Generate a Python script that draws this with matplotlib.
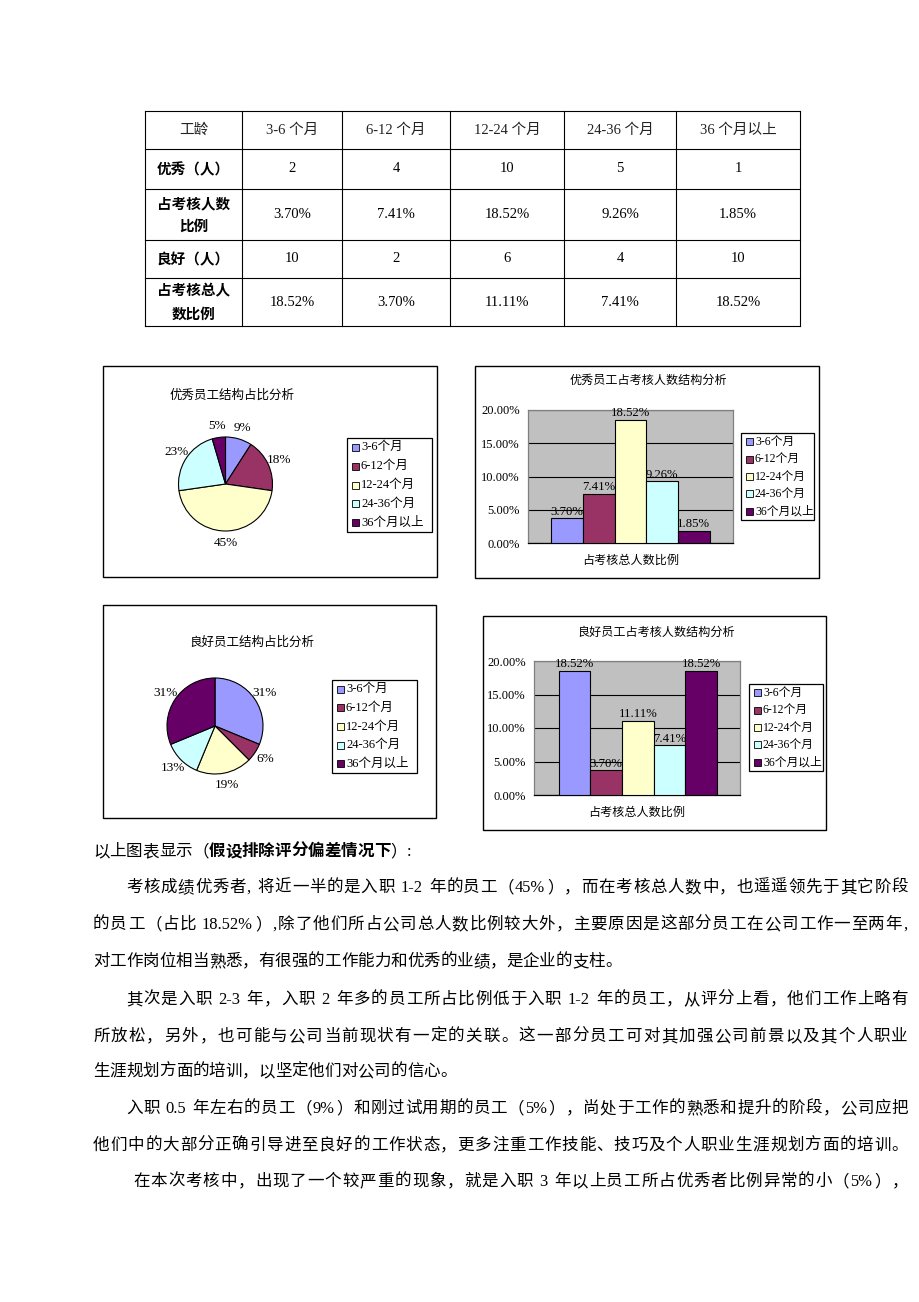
import matplotlib
matplotlib.use('Agg')
import matplotlib.pyplot as plt
from matplotlib.patches import Rectangle

W, H = 920, 1302
CJK = 'Noto Sans CJK SC'
MIX = ['Liberation Serif', 'Noto Sans CJK SC']

# ---------------- data ----------------
categories = ['3-6个月', '6-12个月', '12-24个月', '24-36个月', '36个月以上']
table_header = ['工龄', '3-6 个月', '6-12 个月', '12-24 个月', '24-36 个月', '36 个月以上']
row_labels = ['优秀（人）', '占考核人数\n比例', '良好（人）', '占考核总人\n数比例']
excellent_count = [2, 4, 10, 5, 1]
excellent_pct = [3.70, 7.41, 18.52, 9.26, 1.85]
good_count = [10, 2, 6, 4, 10]
good_pct = [18.52, 3.70, 11.11, 7.41, 18.52]
colors = ['#9999FF', '#993366', '#FFFFCC', '#CCFFFF', '#660066']

pie1_title = '优秀员工结构占比分析'
pie2_title = '良好员工结构占比分析'
bar1_title = '优秀员工占考核人数结构分析'
bar2_title = '良好员工占考核人数结构分析'
bar_xlabel = '占考核总人数比例'

LEFT = 93
IND = 126
body_lines = [
    (LEFT, [('以上图表显示（', 'normal'), ('假设排除评分偏差情况下', 'bold'), ('）:', 'normal')], False),
    (IND, [('考核成绩优秀者, 将近一半的是入职 1-2 年的员工（45%），而在考核总人数中，也遥遥领先于其它阶段', 'normal')], True),
    (LEFT, [('的员工（占比 18.52%）,除了他们所占公司总人数比例较大外，主要原因是这部分员工在公司工作一至两年,', 'normal')], True),
    (LEFT, [('对工作岗位相当熟悉，有很强的工作能力和优秀的业绩，是企业的支柱。', 'normal')], False),
    (IND, [('其次是入职 2-3 年，入职 2 年多的员工所占比例低于入职 1-2 年的员工，从评分上看，他们工作上略有', 'normal')], True),
    (LEFT, [('所放松，另外，也可能与公司当前现状有一定的关联。这一部分员工可对其加强公司前景以及其个人职业', 'normal')], True),
    (LEFT, [('生涯规划方面的培训，以坚定他们对公司的信心。', 'normal')], False),
    (IND, [('入职 0.5 年左右的员工（9%）和刚过试用期的员工（5%），尚处于工作的熟悉和提升的阶段，公司应把', 'normal')], True),
    (LEFT, [('他们中的大部分正确引导进至良好的工作状态，更多注重工作技能、技巧及个人职业生涯规划方面的培训。', 'normal')], True),
    (IND + 7, [('在本次考核中，出现了一个较严重的现象，就是入职 3 年以上员工所占优秀者比例异常的小（5%），', 'normal')], True),
]
body_y = [852, 888, 925, 962, 1000, 1037, 1072, 1109, 1146, 1182]

# ---------------- figure ----------------
fig = plt.figure(figsize=(W / 100, H / 100), dpi=100)
fig.patch.set_facecolor('white')
ov = fig.add_axes([0, 0, 1, 1])
ov.set_xlim(0, W)
ov.set_ylim(H, 0)
ov.axis('off')
renderer = fig.canvas.get_renderer()


def frect(x0, y0, x1, y1):
    return [x0 / W, 1 - y1 / H, (x1 - x0) / W, (y1 - y0) / H]


# ---------------- table ----------------
col_x = [145, 242, 342, 450, 564, 676, 800]
row_y = [111, 149, 189, 240, 278, 326]
for y in row_y:
    ov.plot([col_x[0], col_x[-1]], [y, y], color='black', lw=0.8)
for x in col_x:
    ov.plot([x, x], [row_y[0], row_y[-1]], color='black', lw=0.8)


def cell_center(c, r):
    return (col_x[c] + col_x[c + 1]) / 2, (row_y[r] + row_y[r + 1]) / 2


for c, h in enumerate(table_header):
    cx, cy = cell_center(c, 0)
    ov.text(cx, cy, h, ha='center', va='center', fontsize=10.5, family=MIX, color='#222222')

rows_vals = [
    [str(v) for v in excellent_count],
    [f'{v:.2f}%' for v in excellent_pct],
    [str(v) for v in good_count],
    [f'{v:.2f}%' for v in good_pct],
]
for r, lab in enumerate(row_labels):
    cx, cy = cell_center(0, r + 1)
    ov.text(cx, cy, lab, ha='center', va='center', fontsize=10.5, family=CJK,
            fontweight='bold', linespacing=1.5, multialignment='center')
    for c, v in enumerate(rows_vals[r]):
        vx, vy = cell_center(c + 1, r + 1)
        ov.text(vx, vy, v, ha='center', va='center', fontsize=10.5, family=MIX)


# ---------------- helpers ----------------
def frame(x0, y0, x1, y1):
    ov.add_patch(Rectangle((x0, y0), x1 - x0, y1 - y0, fill=False, ec='black', lw=1.0))


def legend(x0, y0, x1, y1, fs):
    ov.add_patch(Rectangle((x0, y0), x1 - x0, y1 - y0, fc='white', ec='black', lw=0.9, zorder=5))
    step = (y1 - y0) / len(categories)
    for i, lab in enumerate(categories):
        yc = y0 + step * (i + 0.5)
        ov.add_patch(Rectangle((x0 + 5, yc - 3.5), 7, 7, fc=colors[i], ec='black', lw=0.6, zorder=6))
        ov.text(x0 + 14, yc, lab, ha='left', va='center', fontsize=fs, family=MIX, zorder=6)


def pct_fmt(p):
    return f'{int(p + 0.5)}%'


def draw_pie(box, title, title_xy, center, r, counts, leg_box):
    frame(*box)
    ov.text(title_xy[0], title_xy[1], title, ha='center', va='center', fontsize=9, family=CJK)
    cx, cy = center
    ax = fig.add_axes(frect(cx - r, cy - r, cx + r, cy + r))
    ax.pie(counts, colors=colors, startangle=90, counterclock=False,
           wedgeprops=dict(edgecolor='black', linewidth=0.8),
           autopct=pct_fmt, pctdistance=1.25,
           textprops=dict(fontsize=9.5, family=MIX))
    ax.set_xlim(-1, 1)
    ax.set_ylim(-1, 1)
    ax.set_facecolor('none')
    legend(*leg_box, fs=9)


def draw_bar(box, title, title_xy, plot_box, values, gap, leg_box, xlabel_y):
    frame(*box)
    ov.text(title_xy[0], title_xy[1], title, ha='center', va='center', fontsize=8.7, family=CJK)
    ax = fig.add_axes(frect(*plot_box))
    ax.set_facecolor('#C0C0C0')
    xs = list(range(len(values)))
    vals = [v / 100 for v in values]
    ax.bar(xs, vals, width=1.0, color=colors, edgecolor='black', linewidth=0.8, zorder=3)
    for x, v in zip(xs, values):
        ax.text(x, v / 100 + 0.001, f'{v:.2f}%', ha='center', va='bottom', fontsize=9.2,
                family=MIX, zorder=4)
    ax.set_xlim(-0.5 - gap[0], len(values) - 0.5 + gap[1])
    ax.set_ylim(0, 0.20)
    ticks = [0, 0.05, 0.10, 0.15, 0.20]
    ax.set_yticks(ticks)
    ax.set_yticklabels([f'{t * 100:.2f}%' for t in ticks], fontsize=9, family=MIX)
    ax.set_xticks([])
    ax.tick_params(axis='y', length=0, pad=6)
    ax.yaxis.grid(True, color='black', lw=0.8, zorder=1)
    for s in ax.spines.values():
        s.set_color('#808080')
        s.set_linewidth(0.9)
    ax.spines['bottom'].set_color('black')
    ov.text((plot_box[0] + plot_box[2]) / 2, xlabel_y, bar_xlabel, ha='center', va='center',
            fontsize=8.7, family=CJK)
    legend(*leg_box, fs=8.5)


# ---------------- charts ----------------
draw_pie((103, 366, 437, 577), pie1_title, (232, 395), (225.5, 484), 47,
         excellent_count, (347, 438, 432, 532))
draw_bar((475, 366, 819, 578), bar1_title, (648, 380), (528, 410, 733, 543),
         excellent_pct, (0.74, 0.74), (741, 433, 814, 520), 560)
draw_pie((103, 605, 436, 818), pie2_title, (252, 642), (215, 726), 48,
         good_count, (332, 680, 417, 773))
draw_bar((483, 616, 826, 830), bar2_title, (656, 632), (534, 661, 740, 795),
         good_pct, (0.78, 0.73), (749, 684, 823, 771), 812)

# ---------------- body text (justified by spacing) ----------------
RIGHT = 908
BASE = 11.9
EM = BASE * 100 / 72
SPACE_W = EM * 0.3


def tokenize(s):
    """CJK characters are single tokens; ASCII runs (with their spaces) are one token."""
    out, buf = [], ''
    for ch in s:
        if ord(ch) < 128:
            buf += ch
        else:
            if buf:
                out.append(buf)
                buf = ''
            out.append(ch)
    if buf:
        out.append(buf)
    return out


for (x0, segs, justify), y in zip(body_lines, body_y):
    items = []
    total = 0.0
    for s, wt in segs:
        for tk in tokenize(s):
            core = tk.strip(' ')
            lead = (len(tk) - len(tk.lstrip(' '))) * SPACE_W
            trail = (len(tk) - len(tk.rstrip(' '))) * SPACE_W
            t = ov.text(0, y, core, ha='left', va='center', fontsize=BASE, family=MIX,
                        fontweight=wt)
            w = t.get_window_extent(renderer).width
            if ord(core[0]) >= 128:
                w = max(w, EM)
            else:
                w += 1.0
            items.append((t, lead, w + lead + trail))
            total += w + lead + trail
    gap = 0.0
    if justify and len(items) > 1:
        gap = (RIGHT - x0 - total) / (len(items) - 1)
    cur = x0
    for t, lead, w in items:
        t.set_x(cur + lead)
        cur += w + gap

fig.savefig('out.png', dpi=100, facecolor='white')
